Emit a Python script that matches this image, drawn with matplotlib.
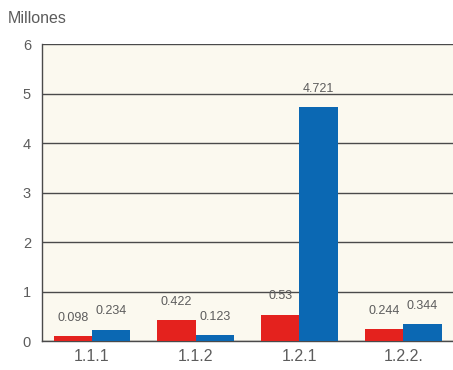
import matplotlib
matplotlib.use("Agg")
import matplotlib.pyplot as plt
import numpy as np

categories = ["1.1.1", "1.1.2", "1.2.1", "1.2.2."]
red_values = [0.098, 0.422, 0.53, 0.244]
blue_values = [0.234, 0.123, 4.721, 0.344]
red_labels = ["0.098", "0.422", "0.53", "0.244"]
blue_labels = ["0.234", "0.123", "4.721", "0.344"]
y_ticks = [0, 1, 2, 3, 4, 5, 6]

plt.rcParams['font.family'] = ['Liberation Sans', 'DejaVu Sans']
text_color = "#5c5c5c"

fig = plt.figure(figsize=(4.53, 3.70), dpi=100)
ax = fig.add_axes([0.093, 0.078, 0.907, 0.803])
ax.set_facecolor("#fbf9ef")

x = np.arange(len(categories))
w = 0.37
ax.bar(x - w / 2, red_values, width=w, color="#e4221e", zorder=3)
ax.bar(x + w / 2, blue_values, width=w, color="#0b68b3", zorder=3)

for xi, v, s in zip(x - w / 2, red_values, red_labels):
    ax.annotate(s, (xi, v), xytext=(0, 9), textcoords="offset points",
                ha="center", va="bottom", fontsize=9, color=text_color)
for xi, v, s in zip(x + w / 2, blue_values, blue_labels):
    ax.annotate(s, (xi, v), xytext=(0, 9), textcoords="offset points",
                ha="center", va="bottom", fontsize=9, color=text_color)

ax.set_xlim(-0.48, 3.48)
ax.set_ylim(0, 6)
ax.set_yticks(y_ticks)
ax.set_yticklabels([str(t) for t in y_ticks], fontsize=10.5, color=text_color)
ax.set_xticks(x)
ax.set_xticklabels(categories, fontsize=11.5, color=text_color)
ax.tick_params(axis="both", length=0)
ax.tick_params(axis="y", pad=8)
ax.tick_params(axis="x", pad=6)

ax.yaxis.grid(True, color="#4a4a4a", linewidth=1.0, zorder=1)
ax.set_axisbelow(True)
for side in ["top", "right"]:
    ax.spines[side].set_visible(False)
for side in ["left", "bottom"]:
    ax.spines[side].set_color("#4a4a4a")
    ax.spines[side].set_linewidth(1.0)

fig.text(0.018, 0.95, "Millones", fontsize=11.5, color=text_color, ha="left", va="center")

fig.savefig("out.png", dpi=100, facecolor="white")
